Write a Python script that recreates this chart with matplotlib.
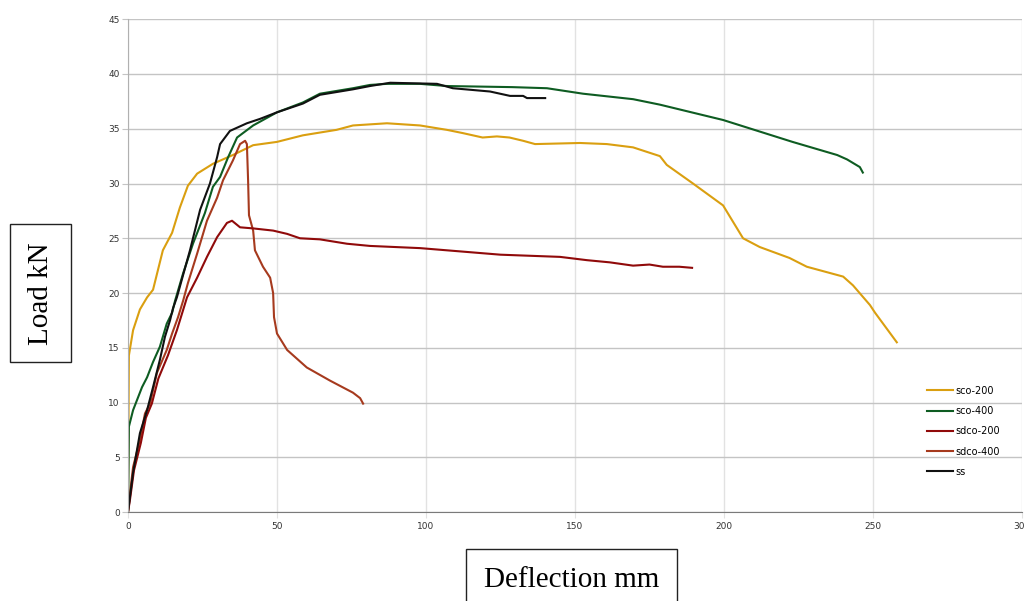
import matplotlib.pyplot as plt

# deflection (mm) / load (kN)
sco200_x = [0, 0.1, 0.2, 0.3, 1.7, 4.0, 6.4, 8.4, 11.7, 14.8, 17.4, 20.1, 23.2, 28.5, 35.2,
            42.0, 50.0, 58.7, 70.0, 75.5, 86.9, 98.0, 107.0, 112.4, 119.0, 123.8, 128.0,
            132.6, 136.6, 151.7, 160.7, 169.5, 178.5, 180.8, 189.6, 199.7, 206.4, 212.0,
            222.0, 227.8, 240.0, 243.3, 249.0, 250.7, 258.0]
sco200_y = [0, 5.0, 10.0, 14.3, 16.6, 18.5, 19.6, 20.3, 23.9, 25.5, 27.8, 29.8, 30.9, 31.8, 32.6,
            33.5, 33.8, 34.4, 34.9, 35.3, 35.5, 35.3, 34.9, 34.6, 34.2, 34.3, 34.2,
            33.9, 33.6, 33.7, 33.6, 33.3, 32.5, 31.7, 30.0, 28.0, 25.0, 24.2,
            23.2, 22.4, 21.5, 20.7, 18.9, 18.2, 15.5]

sco400_x = [0, 0.2, 0.3, 1.7, 4.7, 6.4, 8.4, 10.7, 13.0, 14.8, 15.8, 18.5, 21.8, 25.8, 28.5,
            30.9, 33.6, 36.6, 42.0, 50.0, 58.7, 64.4, 75.5, 81.2, 86.9, 98.0, 107.0, 129.0,
            140.6, 152.7, 169.5, 178.5, 199.7, 223.0, 238.0, 241.3, 245.6, 246.6]
sco400_y = [0, 5.0, 7.8, 9.3, 11.4, 12.3, 13.7, 15.1, 17.2, 18.2, 19.3, 21.8, 24.5, 27.3, 29.7,
            30.6, 32.4, 34.2, 35.3, 36.5, 37.4, 38.2, 38.7, 39.0, 39.1, 39.1, 38.9, 38.8,
            38.7, 38.2, 37.7, 37.2, 35.8, 33.8, 32.6, 32.2, 31.5, 31.0]

sdco200_x = [0, 0.6, 2.0, 4.3, 6.0, 8.0, 10.2, 13.4, 16.4, 19.8, 23.2, 26.5, 29.9, 33.2, 34.9,
             37.6, 42.0, 48.7, 53.4, 57.7, 64.4, 73.5, 81.2, 98.0, 125.0, 145.0, 154.0,
             161.7, 169.5, 175.0, 179.5, 185.0, 189.3]
sdco200_y = [0, 1.0, 3.8, 6.3, 8.6, 9.9, 12.2, 14.3, 16.6, 19.6, 21.4, 23.3, 25.1, 26.4, 26.6,
             26.0, 25.9, 25.7, 25.4, 25.0, 24.9, 24.5, 24.3, 24.1, 23.5, 23.3, 23.0,
             22.8, 22.5, 22.6, 22.4, 22.4, 22.3]

sdco400_x = [0, 0.4, 1.7, 4.0, 5.7, 7.4, 9.7, 13.0, 14.8, 16.8, 18.5, 20.1, 23.2, 26.5, 29.9,
             31.9, 35.2, 37.6, 39.3, 39.9, 40.3, 40.6, 42.0, 42.6, 45.3, 47.7, 48.7, 49.0,
             50.0, 53.4, 60.0, 67.8, 75.5, 77.9, 78.9]
sdco400_y = [0, 1.1, 4.1, 6.6, 9.0, 9.9, 12.7, 14.8, 16.3, 17.8, 19.3, 20.9, 23.6, 26.6, 28.7,
             30.3, 32.1, 33.6, 33.9, 33.6, 30.3, 27.1, 25.7, 23.9, 22.4, 21.4, 20.0, 17.8,
             16.3, 14.8, 13.2, 12.0, 10.9, 10.4, 9.9]

ss_x = [0, 1.7, 4.0, 6.4, 8.4, 10.7, 12.4, 14.1, 15.1, 16.4, 20.8, 24.2, 27.5, 29.9, 30.9,
        34.2, 39.9, 44.3, 50.0, 58.7, 64.4, 75.5, 81.2, 88.0, 103.7, 109.0, 121.5, 128.2,
        132.6, 133.9, 140.0]
ss_y = [0, 3.6, 7.2, 9.3, 11.4, 13.9, 16.0, 17.5, 18.6, 19.6, 23.9, 27.6, 30.0, 32.4, 33.6,
        34.8, 35.5, 35.9, 36.5, 37.3, 38.1, 38.6, 38.9, 39.2, 39.1, 38.7, 38.4, 38.0,
        38.0, 37.8, 37.8]

series = [
    ('sco-200', sco200_x, sco200_y, '#DA9F10'),
    ('sco-400', sco400_x, sco400_y, '#0E5C22'),
    ('sdco-200', sdco200_x, sdco200_y, '#900A0A'),
    ('sdco-400', sdco400_x, sdco400_y, '#A63A1E'),
    ('ss', ss_x, ss_y, '#111111'),
]
draw_order = [0, 3, 2, 1, 4]

fig = plt.figure(figsize=(10.24, 6.01), dpi=100)
ax = fig.add_axes([0.125, 0.148, 0.873, 0.82])

lines = {}
for i in draw_order:
    name, xs, ys, c = series[i]
    lines[i], = ax.plot(xs, ys, color=c, lw=1.5, label=name)

ax.legend([lines[i] for i in range(5)], [s[0] for s in series],
          loc='upper left', bbox_to_anchor=(0.901, 0.366),
          bbox_transform=fig.transFigure, frameon=False, fontsize=7,
          handlelength=2.6, handletextpad=0.3, labelspacing=1.05, borderpad=0)

ax.set_xlim(0, 300)
ax.set_ylim(0, 45)
ax.set_xticks(range(0, 301, 50))
ax.set_yticks(range(0, 46, 5))
ax.grid(axis='y', color='#c4c4c4', lw=1)
ax.grid(axis='x', color='#e2e2e2', lw=1)
ax.set_axisbelow(True)
for s in ['top', 'right']:
    ax.spines[s].set_visible(False)
ax.spines['left'].set_color('#b0b0b0')
ax.spines['bottom'].set_color('#7a7a7a')
ax.tick_params(axis='y', length=4, color='#c4c4c4', labelsize=6.5, labelcolor='#333333', pad=2)
ax.tick_params(axis='x', length=4, color='#e2e2e2', labelsize=6.5, labelcolor='#333333', pad=3)

box = dict(boxstyle='square,pad=0.6', fc='white', ec='#222222', lw=1)
fig.text(0.040, 0.512, 'Load kN', rotation=90, ha='center', va='center',
         family='Liberation Serif', fontsize=21, bbox=box)
fig.text(0.558, 0.035, 'Deflection mm', ha='center', va='center',
         family='Liberation Serif', fontsize=21, bbox=box)

fig.savefig('out.png', dpi=100)
